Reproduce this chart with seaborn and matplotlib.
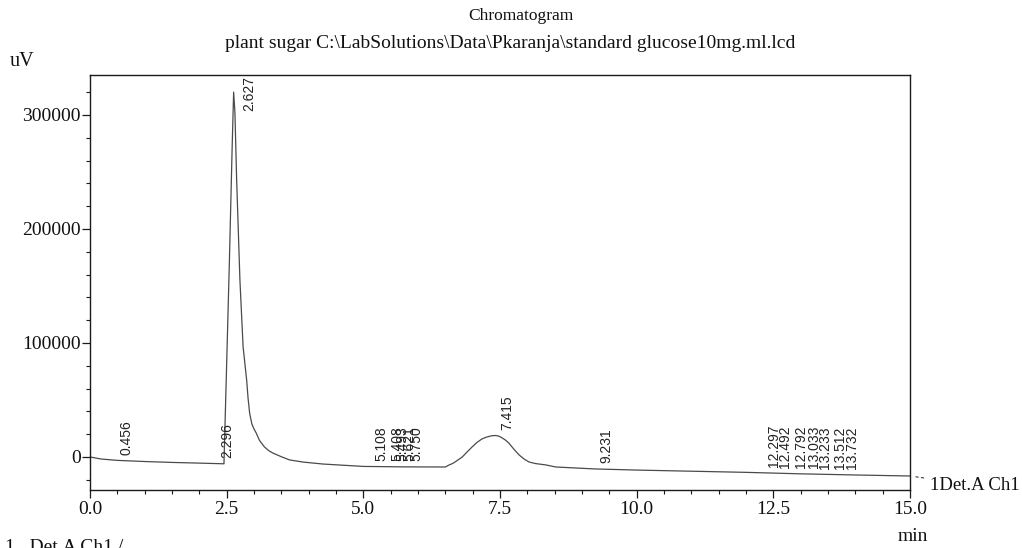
import numpy as np
import pandas as pd
import matplotlib
matplotlib.use("Agg")
import matplotlib.pyplot as plt
from matplotlib.ticker import MultipleLocator, FixedLocator
import seaborn as sns

# Detector trace (retention time in min, signal in uV)
time_min = [0.00, 0.20, 0.50, 1.00, 1.50, 2.00, 2.30, 2.45, 2.50, 2.55, 2.60,
            2.627, 2.651, 2.682, 2.742, 2.80, 2.865, 2.89, 2.92, 2.96, 3.00,
            3.04, 3.10, 3.19, 3.27, 3.35, 3.50, 3.65, 3.90, 4.26, 5.00, 5.75,
            6.50, 6.57, 6.63, 6.69, 6.75, 6.81, 6.90, 6.99, 7.08, 7.17, 7.24,
            7.30, 7.35, 7.415, 7.47, 7.53, 7.60, 7.66, 7.75, 7.85, 7.94, 8.03,
            8.15, 8.34, 8.52, 9.23, 10.00, 11.00, 12.00, 13.00, 14.00, 15.00]
signal_uv = [0, -1800, -3000, -4000, -4800, -5400, -5800, -6000, 83000, 173000,
             272000, 320000, 301700, 243000, 155000, 96700, 67500, 52000, 38300,
             29000, 24500, 21000, 14500, 8800, 5500, 3300, 200, -2600, -4500,
             -6200, -8300, -8700, -8800, -7000, -5800, -4000, -2000, 0, 4500,
             8800, 12800, 15800, 17200, 18000, 18600, 18800, 18400, 17000,
             14800, 12300, 7000, 1750, -1800, -4400, -5800, -7000, -8800,
             -10500, -11500, -12500, -13500, -14800, -15800, -16700]

# Integration marks (retention times printed on the trace)
peak_times = [0.456, 2.296, 2.627, 5.108, 5.408, 5.493, 5.621, 5.750, 7.415,
              9.231, 12.297, 12.492, 12.792, 13.033, 13.233, 13.512, 13.732]

x_ticks = [0.0, 2.5, 5.0, 7.5, 10.0, 12.5, 15.0]
y_ticks = [0, 100000, 200000, 300000]

title_lines = ["Chromatogram",
               "plant sugar C:\\LabSolutions\\Data\\Pkaranja\\standard glucose10mg.ml.lcd"]
channel_name = "1Det.A Ch1"

sns.set_theme(style="white")
serif = ["Liberation Serif", "DejaVu Serif"]
sans = ["Liberation Sans", "DejaVu Sans"]
plt.rcParams["font.family"] = serif
plt.rcParams["axes.edgecolor"] = "#1a1a1a"
plt.rcParams["axes.linewidth"] = 1.0

fig = plt.figure(figsize=(10.22, 5.48), dpi=100)
ax = fig.add_axes([0.0881, 0.1058, 0.8023, 0.7573])

trace = pd.DataFrame({"t": time_min, "uv": signal_uv})
sns.lineplot(data=trace, x="t", y="uv", ax=ax, estimator=None, sort=False,
             color="#4a4a4a", linewidth=0.9)

ax.set_xlim(0, 15)
ax.set_ylim(-29000, 335000)
ax.set_xlabel("")
ax.set_ylabel("")

ax.xaxis.set_major_locator(FixedLocator(x_ticks))
ax.xaxis.set_minor_locator(MultipleLocator(0.5))
ax.yaxis.set_major_locator(FixedLocator(y_ticks))
ax.yaxis.set_minor_locator(MultipleLocator(20000))
ax.set_xticklabels([f"{v:.1f}" for v in x_ticks], fontsize=14)
ax.set_yticklabels([f"{v:d}" for v in y_ticks], fontsize=14)
ax.tick_params(axis="both", which="major", direction="out", length=6,
               width=0.9, color="#1a1a1a", labelcolor="#111111")
ax.tick_params(axis="y", which="major", pad=0.5)
ax.tick_params(axis="x", which="major", pad=2)
ax.tick_params(axis="both", which="minor", direction="out", length=3,
               width=0.8, color="#1a1a1a")
ax.tick_params(bottom=True, left=True, top=False, right=False, which="both")
for side in ["top", "right", "bottom", "left"]:
    ax.spines[side].set_visible(True)

# Retention-time labels, written vertically just beside each mark
t_arr = np.array(time_min)
s_arr = np.array(signal_uv)
for pt in peak_times:
    level = np.interp(pt, t_arr, s_arr)
    if level > 250000:
        ax.annotate(f"{pt:.3f}", xy=(pt, 1.0), xycoords=("data", "axes fraction"),
                    xytext=(11, -1), textcoords="offset points", rotation=90,
                    ha="center", va="top", fontsize=10, family=sans,
                    color="#222222")
    else:
        ax.annotate(f"{pt:.3f}", xy=(pt, level), xytext=(8.5, 4),
                    textcoords="offset points", rotation=90, ha="center",
                    va="bottom", fontsize=10, family=sans, color="#222222")

# Channel tag at the end of the trace
ax.annotate(channel_name, xy=(15.0, signal_uv[-1]), xycoords="data",
            xytext=(1.024, 0.012), textcoords="axes fraction",
            ha="left", va="center", fontsize=13.5, color="#111111",
            annotation_clip=False,
            arrowprops=dict(arrowstyle="-", linestyle=(0, (2, 3)),
                            color="#333333", lw=0.8, shrinkA=2, shrinkB=2))

ax.text(1.0037, -0.113, "min", transform=ax.transAxes, ha="center",
        va="center", fontsize=14, color="#111111")
fig.text(10 / 1022, 0.887, "uV", ha="left", va="center", fontsize=14.5,
         color="#111111")
fig.text(521 / 1022, 0.971, title_lines[0], ha="center", va="center",
         fontsize=12.5, color="#111111")
fig.text(510 / 1022, 0.9215, title_lines[1], ha="center", va="center",
         fontsize=14, color="#111111")
fig.text(0.005, 0.0, "1   Det.A Ch1 /", ha="left", va="center", fontsize=14,
         color="#111111")

fig.savefig("out.png", dpi=100)
